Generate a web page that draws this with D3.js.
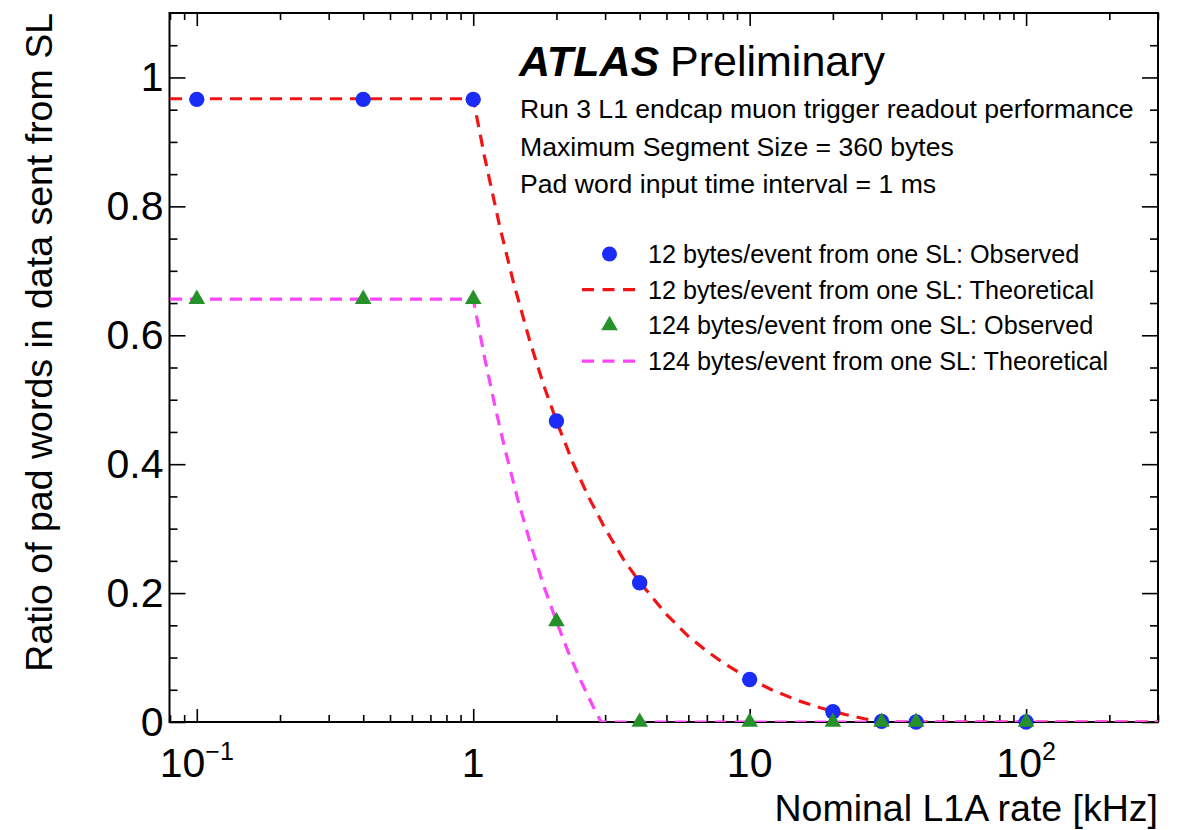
<!DOCTYPE html>
<html>
<head>
<meta charset="utf-8">
<script src="https://cdn.jsdelivr.net/npm/d3@7"></script>
<style>
  body { margin: 0; background: #fff; }
  svg text { font-family: "Liberation Sans", Arial, Helvetica, sans-serif; fill: #000; }
</style>
</head>
<body>
<svg id="chart" width="1187" height="830"></svg>
<script>
// Measured L1A rates [kHz] and observed pad-word ratios
const rates = [0.1, 0.4, 1, 2, 4, 10, 20, 30, 40, 100];
const observed12 = [0.966, 0.966, 0.966, 0.467, 0.216, 0.066, 0.016, 0.001, 0, 0];
const observed124 = [0.656, 0.656, 0.656, 0.156, 0, 0, 0, 0, 0, 0];

// Theoretical expectation, sampled along the curve
const theoryRates12 = [0.08, 1, 1.1, 1.25, 1.4, 1.6, 1.8, 2, 2.3, 2.6, 3, 3.5, 4, 5, 6, 7, 8, 10, 12, 15, 18, 22, 26, 30, 300];
const theory12 = [0.967, 0.967, 0.876, 0.767, 0.681, 0.592, 0.522, 0.467, 0.401, 0.351, 0.300, 0.252, 0.217, 0.167, 0.133, 0.110, 0.092, 0.067, 0.050, 0.033, 0.022, 0.012, 0.005, 0, 0];
const theoryRates124 = [0.08, 1, 1.1, 1.2, 1.3, 1.45, 1.6, 1.8, 2, 2.2, 2.45, 2.7, 2.9, 300];
const theory124 = [0.656, 0.656, 0.565, 0.489, 0.425, 0.345, 0.281, 0.211, 0.156, 0.110, 0.064, 0.026, 0, 0];

// Axis ticks and labels
const yMajorTicks = [0, 0.2, 0.4, 0.6, 0.8, 1];
const yTickLabels = ["0", "0.2", "0.4", "0.6", "0.8", "1"];
const yMinorTicks = [0.05, 0.1, 0.15, 0.25, 0.3, 0.35, 0.45, 0.5, 0.55, 0.65, 0.7, 0.75, 0.85, 0.9, 0.95, 1.05];
const xMajorTicks = [0.1, 1, 10, 100];
const xTickBases = ["10", "1", "10", "10"];
const xTickExponents = ["\u22121", "", "", "2"];
const xMinorTicks = [0.08, 0.09, 0.2, 0.3, 0.4, 0.5, 0.6, 0.7, 0.8, 0.9, 2, 3, 4, 5, 6, 7, 8, 9, 20, 30, 40, 50, 60, 70, 80, 90, 200, 300];

const xTitle = "Nominal L1A rate [kHz]";
const yTitle = "Ratio of pad words in data sent from SL";
const infoLines = [
  "Run 3 L1 endcap muon trigger readout performance",
  "Maximum Segment Size = 360 bytes",
  "Pad word input time interval = 1 ms"
];
const legendLabels = [
  "12 bytes/event from one SL: Observed",
  "12 bytes/event from one SL: Theoretical",
  "124 bytes/event from one SL: Observed",
  "124 bytes/event from one SL: Theoretical"
];

const COL_BLUE = "#1a2cf5";
const COL_RED = "#f21414";
const COL_GREEN = "#26912b";
const COL_MAGENTA = "#fb46fb";

const svg = d3.select("#chart");
const frame = { left: 169.5, right: 1158, top: 13, bottom: 722 };

const x = d3.scaleLog().domain([0.08, 300]).range([170, 1158]);
const y = d3.scaleLinear().domain([0, 1.1]).range([frame.bottom, frame.top]);

// Clip region for the curves
svg.append("defs").append("clipPath").attr("id", "plotClip")
  .append("rect")
  .attr("x", frame.left).attr("y", frame.top)
  .attr("width", frame.right - frame.left).attr("height", frame.bottom - frame.top);

// Axes with inward ticks, ROOT style
function styleAxis(g) {
  g.select(".domain").remove();
  g.selectAll(".tick line").attr("stroke", "#000").attr("stroke-width", 1.6);
}

// left
svg.append("g").attr("transform", `translate(${frame.left},0)`)
  .call(d3.axisLeft(y).tickValues(yMajorTicks).tickSizeInner(-16).tickSizeOuter(0).tickPadding(6)
    .tickFormat((d, i) => yTickLabels[i]))
  .call(styleAxis)
  .call(g => g.selectAll(".tick text").attr("font-size", 41).attr("fill", "#000")
    .attr("font-family", "'Liberation Sans', Arial, sans-serif"));
svg.append("g").attr("transform", `translate(${frame.left},0)`)
  .call(d3.axisLeft(y).tickValues(yMinorTicks).tickSizeInner(-8).tickSizeOuter(0).tickFormat(""))
  .call(styleAxis);
// right
svg.append("g").attr("transform", `translate(${frame.right},0)`)
  .call(d3.axisRight(y).tickValues(yMajorTicks).tickSizeInner(-16).tickSizeOuter(0).tickFormat(""))
  .call(styleAxis);
svg.append("g").attr("transform", `translate(${frame.right},0)`)
  .call(d3.axisRight(y).tickValues(yMinorTicks).tickSizeInner(-8).tickSizeOuter(0).tickFormat(""))
  .call(styleAxis);
// bottom
svg.append("g").attr("transform", `translate(0,${frame.bottom})`)
  .call(d3.axisBottom(x).tickValues(xMajorTicks).tickSizeInner(-13).tickSizeOuter(0).tickFormat(""))
  .call(styleAxis);
svg.append("g").attr("transform", `translate(0,${frame.bottom})`)
  .call(d3.axisBottom(x).tickValues(xMinorTicks).tickSizeInner(-7).tickSizeOuter(0).tickFormat(""))
  .call(styleAxis);
// top
svg.append("g").attr("transform", `translate(0,${frame.top})`)
  .call(d3.axisTop(x).tickValues(xMajorTicks).tickSizeInner(-13).tickSizeOuter(0).tickFormat(""))
  .call(styleAxis);
svg.append("g").attr("transform", `translate(0,${frame.top})`)
  .call(d3.axisTop(x).tickValues(xMinorTicks).tickSizeInner(-7).tickSizeOuter(0).tickFormat(""))
  .call(styleAxis);

// x tick labels with exponents
const xl = svg.append("g").selectAll("text").data(xMajorTicks).join("text")
  .attr("x", d => x(d)).attr("y", 777).attr("text-anchor", "middle").attr("font-size", 41);
xl.append("tspan").text((d, i) => xTickBases[i]);
xl.filter((d, i) => xTickExponents[i] !== "").append("tspan")
  .attr("dy", -17).attr("font-size", 25).text(d => xTickExponents[xMajorTicks.indexOf(d)]);

// frame
svg.append("rect")
  .attr("x", frame.left).attr("y", frame.top)
  .attr("width", frame.right - frame.left).attr("height", frame.bottom - frame.top)
  .attr("fill", "none").attr("stroke", "#000").attr("stroke-width", 2);

// axis titles
svg.append("text").attr("x", frame.right).attr("y", 821).attr("text-anchor", "end")
  .attr("font-size", 37.5).text(xTitle);
svg.append("text").attr("transform", `translate(52,${frame.top}) rotate(-90)`).attr("text-anchor", "end")
  .attr("font-size", 37.5).text(yTitle);

// theoretical curves
const line = d3.line().x(d => x(d[0])).y(d => y(d[1]));
const plot = svg.append("g").attr("clip-path", "url(#plotClip)");
plot.append("path").datum(d3.zip(theoryRates12, theory12)).attr("d", line)
  .attr("fill", "none").attr("stroke", COL_RED).attr("stroke-width", 3.2).attr("stroke-dasharray", "12,8");
plot.append("path").datum(d3.zip(theoryRates124, theory124)).attr("d", line)
  .attr("fill", "none").attr("stroke", COL_MAGENTA).attr("stroke-width", 3.2).attr("stroke-dasharray", "12,8");

// observed points
const tri = d3.symbol().type(d3.symbolTriangle).size(120);
svg.append("g").selectAll("circle").data(d3.zip(rates, observed12)).join("circle")
  .attr("cx", d => x(d[0])).attr("cy", d => y(d[1])).attr("r", 7.7).attr("fill", COL_BLUE);
svg.append("g").selectAll("path").data(d3.zip(rates, observed124)).join("path")
  .attr("transform", d => `translate(${x(d[0])},${y(d[1])})`).attr("d", tri).attr("fill", COL_GREEN);

// experiment label and run conditions
svg.append("text").attr("x", 519).attr("y", 76).attr("font-size", 43)
  .attr("font-weight", "bold").attr("font-style", "italic").text("ATLAS");
svg.append("text").attr("x", 670).attr("y", 76).attr("font-size", 43).text("Preliminary");
svg.append("g").selectAll("text").data(infoLines).join("text")
  .attr("x", 520).attr("y", (d, i) => 118 + i * 37.5).attr("font-size", 26.6).text(d => d);

// legend
const legendRows = [
  { kind: "circle", color: COL_BLUE },
  { kind: "line", color: COL_RED },
  { kind: "triangle", color: COL_GREEN },
  { kind: "line", color: COL_MAGENTA }
];
const lg = svg.append("g").selectAll("g").data(legendRows).join("g")
  .attr("transform", (d, i) => `translate(0,${254 + i * 35.7})`);
lg.filter(d => d.kind === "circle").append("circle").attr("cx", 609.5).attr("r", 7.5).attr("fill", d => d.color);
lg.filter(d => d.kind === "triangle").append("path").attr("transform", "translate(609.5,0)").attr("d", tri).attr("fill", d => d.color);
lg.filter(d => d.kind === "line").append("line").attr("x1", 582).attr("x2", 640)
  .attr("stroke", d => d.color).attr("stroke-width", 3.2).attr("stroke-dasharray", "12,8.5");
lg.append("text").attr("x", 648).attr("dy", "0.36em").attr("font-size", 25.2).text((d, i) => legendLabels[i]);
</script>
</body>
</html>
